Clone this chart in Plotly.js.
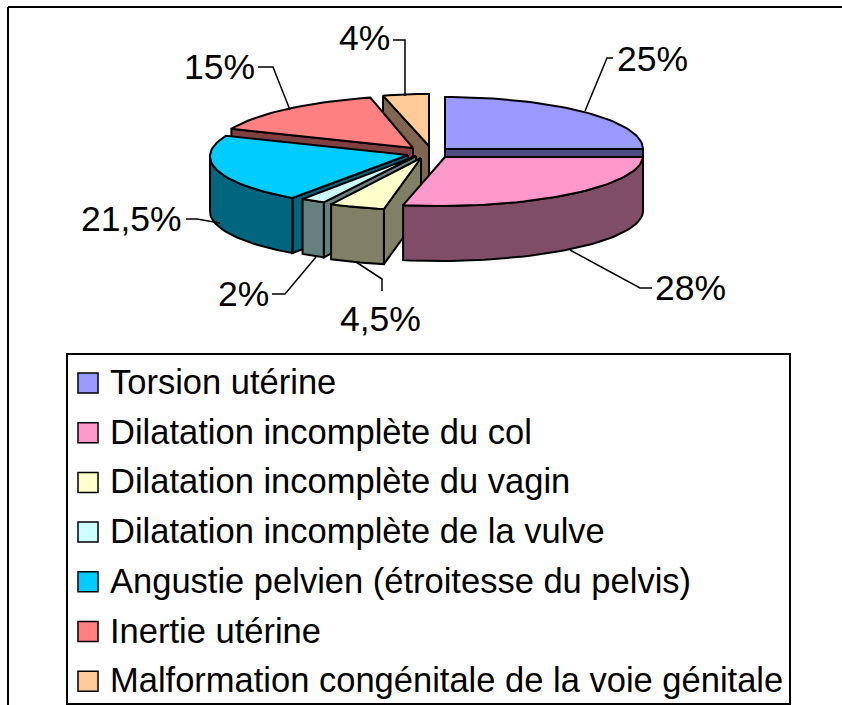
<!DOCTYPE html>
<html><head><meta charset="utf-8">
<script src="https://cdn.plot.ly/plotly-3.0.1.min.js"></script>
<style>html,body{margin:0;padding:0;background:#fff;overflow:hidden}#c{width:842px;height:705px}</style>
</head><body><div id="c"></div>
<script>
const categories = ["Torsion utérine","Dilatation incomplète du col","Dilatation incomplète du vagin","Dilatation incomplète de la vulve","Angustie pelvien (étroitesse du pelvis)","Inertie utérine","Malformation congénitale de la voie génitale"];
const values = [25,28,4.5,2,21.5,15,4];
const valueLabels = ["25%","28%","4,5%","2%","21,5%","15%","4%"];
const topColors = ["#9999FF","#FF99CC","#FFFFCC","#CCFFFF","#00CCFF","#FF8080","#FFCC99"];
const wallColors = ["#4D4D80","#804D66","#808066","#668080","#006680","#804040","#806650"];

// Pie projection (pixel frame)
const DEPTH = 55;
const radiiX = [198,198,198,198,198,198,185];
const radiiY = [52,49,52,52,52,52,52];
const apexes = [[445,149],[445,157],[421,158],[416,156],[408,155],[413,148],[429,146]];
const shear = [0,-0.1,0,-0.05,-0.1,-0.13,0];
const drawOrder = [6,0,5,4,3,2,1];
const leaders = [
  [[585,111],[607,58],[613,58]],
  [[570,250],[640,288],[652,288]],
  [[356,262],[382,279],[382,291]],
  [[316,257],[285,294],[272,294]],
  [[220,223],[197,219],[186,219]],
  [[290,110],[273,67],[258,67]],
  [[405,96],[405,40],[393,40]]
];
const labelPos = [[652.5,59],[690.5,288],[380,319],[243,294],[131.5,219],[219,67],[364,38]];

let cum = 0;
const spans = values.map(v => { const a1 = cum/100*360; cum += v; return [a1, cum/100*360]; });

function pt(i, deg) {
  const r = deg*Math.PI/180, dx = radiiX[i]*Math.sin(r), dy = -radiiY[i]*Math.cos(r);
  return [apexes[i][0] + dx + shear[i]*dy, apexes[i][1] + dy];
}
function arc(i, a, b) {
  const out = [], n = Math.max(2, Math.ceil((b-a)/2));
  for (let k=0;k<=n;k++) out.push(pt(i, a+(b-a)*k/n));
  return out;
}
function poly(points, fill) {
  const xs = points.map(p=>p[0]).concat([points[0][0]]);
  const ys = points.map(p=>p[1]).concat([points[0][1]]);
  return {type:"scatter",mode:"lines",x:xs,y:ys,fill:"toself",fillcolor:fill,
    line:{color:"#000",width:2,shape:"linear"},hoverinfo:"skip",showlegend:false};
}
const traces = [];
drawOrder.forEach(i => {
  const [a1,a2] = spans[i], apex = apexes[i];
  const down = p => [p[0], p[1]+DEPTH];
  if (a1 > 180 && a1 < 360) {           // cut face at slice start
    const e = pt(i,a1);
    traces.push(poly([apex,e,down(e),down(apex)], wallColors[i]));
  }
  if (a2 > 0 && a2 < 180) {             // cut face at slice end
    const e = pt(i,a2);
    traces.push(poly([apex,e,down(e),down(apex)], wallColors[i]));
  }
  const lo = Math.max(a1,90), hi = Math.min(a2,270);   // outer rim facing the viewer
  if (hi > lo) {
    const rim = arc(i,lo,hi);
    traces.push(poly(rim.concat(rim.slice().reverse().map(down)), wallColors[i]));
  }
  traces.push(poly([apex].concat(arc(i,a1,a2)), topColors[i]));
});
leaders.forEach(l => traces.push({type:"scatter",mode:"lines",x:l.map(p=>p[0]),y:l.map(p=>p[1]),
  line:{color:"#000",width:1.5},hoverinfo:"skip",showlegend:false}));

const FONT = "Liberation Sans, Arial, sans-serif";
const annotations = valueLabels.map((t,i)=>({text:t,x:labelPos[i][0],y:labelPos[i][1],xref:"x",yref:"y",
  showarrow:false,xanchor:"center",yanchor:"middle",font:{family:FONT,size:35.5,color:"#000"}}));
const LEG_Y0 = 382, LEG_STEP = 49.7;
categories.forEach((t,i)=>annotations.push({text:t,x:107.5,y:LEG_Y0+i*LEG_STEP,xref:"x",yref:"y",
  showarrow:false,xanchor:"left",yanchor:"middle",font:{family:FONT,size:34.5,color:"#000"}}));

const shapes = [
  {type:"line",x0:8,y0:7,x1:842,y1:7,line:{color:"#000",width:2}},
  {type:"line",x0:8,y0:7,x1:8,y1:705,line:{color:"#000",width:2}},
  {type:"rect",x0:67,y0:354,x1:790,y1:704,fillcolor:"#fff",line:{color:"#000",width:2},layer:"below"}
];
topColors.forEach((c,i)=>{
  const y = 383+i*LEG_STEP;
  shapes.push({type:"rect",x0:78,x1:98,y0:y-10,y1:y+10,fillcolor:c,line:{color:"#000",width:1.5}});
});

Plotly.newPlot("c",traces,{
  width:842,height:705,margin:{l:0,r:0,t:0,b:0,pad:0},
  paper_bgcolor:"#fff",plot_bgcolor:"#fff",showlegend:false,
  xaxis:{range:[0,842],visible:false,fixedrange:true},
  yaxis:{range:[705,0],visible:false,fixedrange:true},
  shapes:shapes,annotations:annotations
},{staticPlot:true,displayModeBar:false});
</script></body></html>
